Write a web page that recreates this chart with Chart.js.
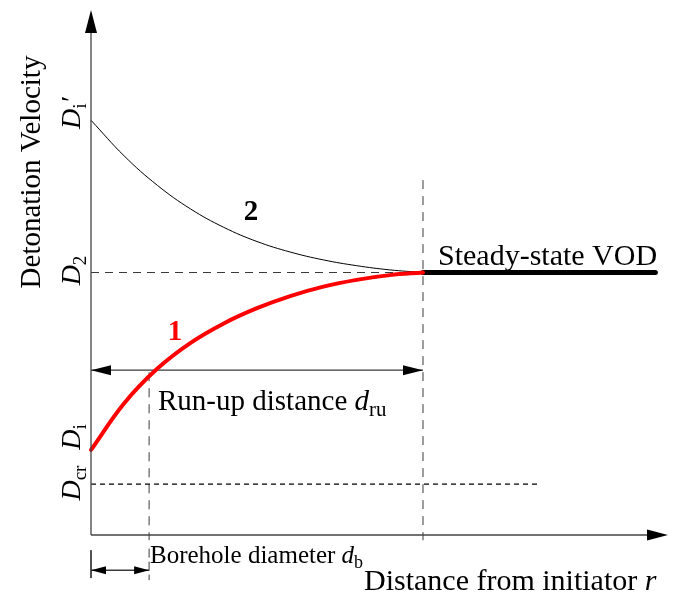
<!DOCTYPE html>
<html><head><meta charset="utf-8">
<script src="https://cdn.jsdelivr.net/npm/chart.js@4.4.1/dist/chart.umd.min.js"></script>
<style>html,body{margin:0;padding:0;background:#fff}canvas{display:block}</style>
</head><body>
<canvas id="c" width="675" height="599"></canvas>
<script>
const rPoints = [0, 1, 2, 3, 4, 5, 6, 7, 8, 9, 10];
const curve1 = [16.2, 25.1, 31.7, 36.6, 40.3, 43.2, 45.5, 47.3, 48.6, 49.5, 50];   // red, "1"
const curve2 = [79.0, 72.2, 66.6, 62.1, 58.6, 55.9, 53.9, 52.4, 51.3, 50.5, 50];   // black, "2"
const levelNames = ['Di′', 'D2', 'Di', 'Dcr'];
const levelValues = [79, 50, 16.2, 9.7];
const runUpDistance = 10;      // r where steady state is reached
const boreholeDiameter = 1.75; // r of borehole diameter mark
const steadyEnd = 17.0;
const dcrEnd = 13.5;
const runUpLevel = 31.4;
const xMax = 17.38, yMax = 100;

const D2 = levelValues[1], Dcr = levelValues[3];
const pts = (xs, ys) => xs.map((x, i) => ({x, y: ys[i]}));
const seg = (x1, y1, x2, y2) => [{x: x1, y: y1}, {x: x2, y: y2}];
const GRAY = '#3a3a3a';
const base = {pointRadius: 0, fill: false, clip: false, tension: 0};

const datasets = [
  Object.assign({}, base, {data: pts(rPoints, curve1), borderColor: '#ff0000', borderWidth: 4, tension: 0.4, borderCapStyle: 'round'}),
  Object.assign({}, base, {data: pts(rPoints, curve2), borderColor: '#000', borderWidth: 1, tension: 0.4}),
  Object.assign({}, base, {data: seg(runUpDistance, D2, steadyEnd, D2), borderColor: '#000', borderWidth: 5, borderCapStyle: 'round'}),
  Object.assign({}, base, {data: seg(0, D2, runUpDistance, D2), borderColor: GRAY, borderWidth: 1, borderDash: [8, 6]}),
  Object.assign({}, base, {data: seg(0, Dcr, dcrEnd, Dcr), borderColor: '#000', borderWidth: 1.3, borderDash: [5, 4]}),
  Object.assign({}, base, {data: seg(runUpDistance, 67.6, runUpDistance, -1), borderColor: GRAY, borderWidth: 1, borderDash: [9, 7]}),
  Object.assign({}, base, {data: seg(boreholeDiameter, 31.0, boreholeDiameter, -1), borderColor: GRAY, borderWidth: 1, borderDash: [9, 7]}),
  Object.assign({}, base, {data: seg(0, runUpLevel, runUpDistance, runUpLevel), borderColor: GRAY, borderWidth: 1.4}),
  Object.assign({}, base, {data: seg(0, -6.7, boreholeDiameter, -6.7), borderColor: GRAY, borderWidth: 1.4}),
  Object.assign({}, base, {data: seg(0, -2.9, 0, -8.2), borderColor: GRAY, borderWidth: 1}),
  Object.assign({}, base, {data: seg(boreholeDiameter, -2.6, boreholeDiameter, -8.6), borderColor: GRAY, borderWidth: 1, borderDash: [9, 4]})
];

const SERIF = '"Liberation Serif", "Times New Roman", serif';

function richText(ctx, x, y, parts, size, rot, align, subRatio) {
  const sr = subRatio || 0.68;
  ctx.save();
  ctx.translate(x, y);
  if (rot) ctx.rotate(rot);
  const fontFor = p => {
    const st = p[1] || 'n';
    if (st === 's') return (size * sr).toFixed(1) + 'px ' + SERIF;
    if (st === 'i') return 'italic ' + size + 'px ' + SERIF;
    if (st === 'b') return 'bold ' + size + 'px ' + SERIF;
    return size + 'px ' + SERIF;
  };
  let total = 0;
  parts.forEach(p => { ctx.font = fontFor(p); total += ctx.measureText(p[0]).width; });
  let cx = align === 'center' ? -total / 2 : 0;
  ctx.textBaseline = 'alphabetic';
  ctx.textAlign = 'left';
  parts.forEach(p => {
    ctx.font = fontFor(p);
    const dy = p[1] === 's' ? size * 0.2 : 0;
    ctx.fillText(p[0], cx, dy);
    cx += ctx.measureText(p[0]).width;
  });
  ctx.restore();
}

function arrowHead(ctx, tx, ty, dir, len, hw) {
  ctx.beginPath();
  ctx.moveTo(tx, ty);
  if (dir === 'r') { ctx.lineTo(tx - len, ty - hw); ctx.lineTo(tx - len, ty + hw); }
  if (dir === 'l') { ctx.lineTo(tx + len, ty - hw); ctx.lineTo(tx + len, ty + hw); }
  if (dir === 'u') { ctx.lineTo(tx - hw, ty + len); ctx.lineTo(tx + hw, ty + len); }
  ctx.closePath();
  ctx.fill();
}

const decor = {
  id: 'decor',
  afterDatasetsDraw(chart) {
    const ctx = chart.ctx, xs = chart.scales.x, ys = chart.scales.y;
    const X = v => xs.getPixelForValue(v), Y = v => ys.getPixelForValue(v);
    ctx.save();
    ctx.strokeStyle = '#444'; ctx.lineWidth = 1.3; ctx.fillStyle = '#000';
    ctx.beginPath();
    ctx.moveTo(X(0), Y(0)); ctx.lineTo(X(0), Y(yMax) + 15);
    ctx.moveTo(X(0), Y(0)); ctx.lineTo(X(xMax) - 15, Y(0));
    ctx.stroke();
    arrowHead(ctx, X(0), Y(yMax), 'u', 23, 6);
    arrowHead(ctx, X(xMax), Y(0), 'r', 21, 5.5);
    arrowHead(ctx, X(0), Y(runUpLevel), 'l', 20, 5);
    arrowHead(ctx, X(runUpDistance), Y(runUpLevel), 'r', 20, 5);
    arrowHead(ctx, X(0), Y(-6.7), 'l', 15, 4);
    arrowHead(ctx, X(boreholeDiameter), Y(-6.7), 'r', 15, 4);

    ctx.fillStyle = '#000';
    richText(ctx, 40, 172, [['Detonation Velocity']], 29, -Math.PI / 2, 'center');
    richText(ctx, 364, 590, [['Distance from initiator '], ['r', 'i']], 30, 0, 'left');
    const lblParts = [
      [['D', 'i'], ['i', 's'], ['′', 'i']],
      [['D', 'i'], ['2', 's']],
      [['D', 'i'], ['i', 's']],
      [['D', 'i'], ['cr', 's']]
    ];
    const lblShift = [-7, -2, -13, -1];
    levelValues.forEach((v, i) => {
      richText(ctx, 80, Y(v) + lblShift[i], lblParts[i], 28, -Math.PI / 2, 'center');
    });
    richText(ctx, 438, 265, [['Steady-state VOD']], 30, 0, 'left');
    richText(ctx, 158, 410, [['Run-up distance '], ['d', 'i'], ['ru', 's']], 29, 0, 'left', 0.72);
    richText(ctx, 150, 563, [['Borehole diameter '], ['d', 'i'], ['b', 's']], 25, 0, 'left', 0.72);
    ctx.fillStyle = '#000';
    richText(ctx, 251, 220, [['2', 'b']], 29, 0, 'center');
    ctx.fillStyle = '#ff0000';
    richText(ctx, 175, 340, [['1', 'b']], 29, 0, 'center');
    ctx.restore();
  }
};

new Chart(document.getElementById('c'), {
  type: 'scatter',
  data: {datasets},
  options: {
    responsive: false,
    animation: false,
    showLine: true,
    layout: {padding: {left: 91, right: 7, top: 10, bottom: 64}},
    scales: {
      x: {type: 'linear', min: 0, max: xMax, display: false},
      y: {type: 'linear', min: 0, max: yMax, display: false}
    },
    plugins: {legend: {display: false}, tooltip: {enabled: false}}
  },
  plugins: [decor]
});
</script>
</body></html>
